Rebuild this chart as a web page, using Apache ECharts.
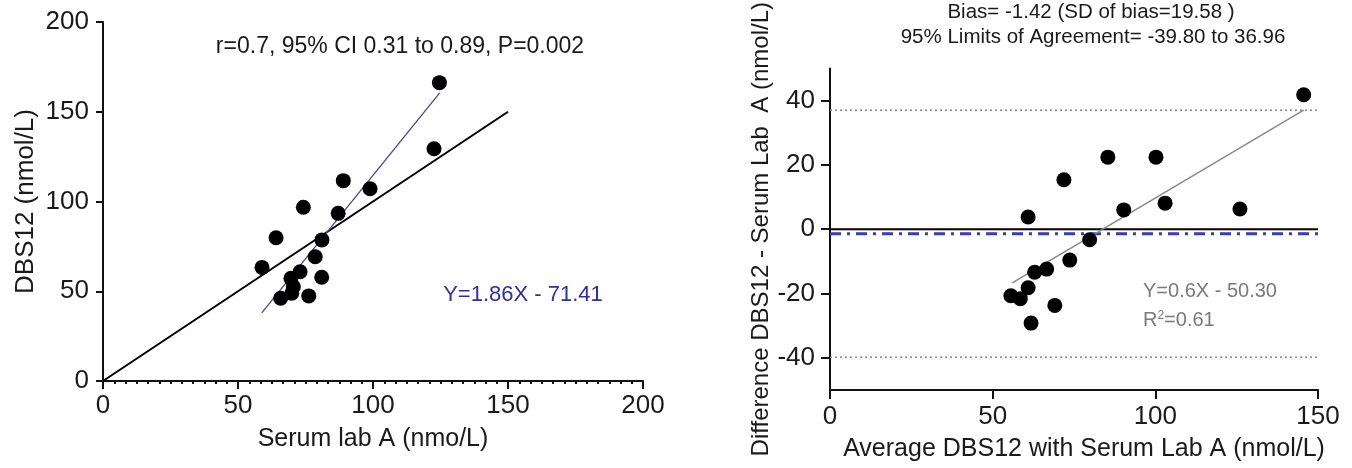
<!DOCTYPE html>
<html>
<head>
<meta charset="utf-8">
<script src="https://cdn.jsdelivr.net/npm/echarts@6/dist/echarts.min.js"></script>
<style>
html,body{margin:0;padding:0;background:#fff;}
#c{width:1352px;height:468px;}
</style>
</head>
<body>
<div id="c"></div>
<script>
// ---- Left panel: correlation (Serum lab A vs DBS12) ----
var serumA = [124.6, 122.6, 89.0, 98.9, 74.2, 87.1, 64.1, 81.1, 78.6, 58.9, 73.0, 81.0, 69.6, 70.5, 69.9, 65.8, 76.2];
var dbs12  = [166.2, 129.4, 111.6, 107.1, 96.8, 93.4, 79.8, 78.6, 69.2, 63.3, 60.9, 57.8, 57.2, 52.5, 48.9, 46.1, 47.4];
var leftTicks = [0, 50, 100, 150, 200];
var identityRange = [0, 150];
var fitLeft = {slope: 1.86, intercept: -71.41};
var fitLeftRange = [58.8, 124.7];

// ---- Right panel: Bland-Altman ----
var baAverage = [145.6, 85.4, 100.2, 71.9, 60.9, 90.3, 103.0, 126.0, 79.8, 73.7, 66.6, 62.9, 60.9, 55.6, 58.5, 69.1, 61.8];
var baDiff    = [41.8, 22.4, 22.4, 15.4, 3.8, 6.0, 8.1, 6.3, -3.3, -9.6, -12.4, -13.4, -18.2, -20.7, -21.6, -23.7, -29.2];
var rightXTicks = [0, 50, 100, 150];
var rightYTicks = [-40, -20, 0, 20, 40];
var bias = -1.42;
var loaUpper = 36.96;
var loaLower = -39.80;
var refRange = [0, 150];
var fitRight = {slope: 0.6, intercept: -50.30};
var fitRightRange = [56, 145.6];

function zip(a, b) { return a.map(function (v, i) { return [v, b[i]]; }); }
function fitLine(f, r) { return r.map(function (x) { return [x, f.slope * x + f.intercept]; }); }
function hLine(y, r) { return r.map(function (x) { return [x, y]; }); }
function identity(r) { return r.map(function (x) { return [x, x]; }); }

var FONT = 'Liberation Sans, Arial, sans-serif';
var TXT = '#1a1a1a';

var chart = echarts.init(document.getElementById('c'), null, {renderer: 'canvas'});

var axisLineStyle = {color: '#111', width: 2};
var tickStyle = {color: '#111', width: 2};

var option = {
  backgroundColor: '#ffffff',
  animation: false,
  textStyle: {fontFamily: FONT},
  grid: [
    {left: 103, top: 22, width: 540, height: 359},
    {left: 830, top: 67, width: 488, height: 323}
  ],
  xAxis: [
    {
      gridIndex: 0, type: 'value', min: 0, max: 200, interval: 50,
      name: 'Serum lab A (nmo/L)', nameLocation: 'middle', nameGap: 46,
      nameTextStyle: {fontSize: 25, color: TXT, fontFamily: FONT},
      axisLine: {show: true, onZero: false, lineStyle: axisLineStyle},
      axisTick: {show: true, length: 8, lineStyle: tickStyle},
      minorTick: {show: true, splitNumber: 12, length: 3, lineStyle: tickStyle},
      axisLabel: {fontSize: 26, color: TXT, margin: 12, fontFamily: FONT, customValues: leftTicks},
      splitLine: {show: false}, minorSplitLine: {show: false}
    },
    {
      gridIndex: 1, type: 'value', min: 0, max: 150, interval: 50,
      name: 'Average DBS12 with Serum Lab A (nmol/L)', nameLocation: 'middle', nameGap: 47,
      nameTextStyle: {fontSize: 25, color: TXT, fontFamily: FONT, padding: [0, 0, 0, 20]},
      axisLine: {show: true, onZero: false, lineStyle: axisLineStyle},
      axisTick: {show: true, length: 9, lineStyle: tickStyle},
      axisLabel: {fontSize: 26, color: TXT, margin: 14, fontFamily: FONT, customValues: rightXTicks},
      splitLine: {show: false}
    }
  ],
  yAxis: [
    {
      gridIndex: 0, type: 'value', min: 0, max: 200, interval: 50,
      name: 'DBS12 (nmol/L)', nameLocation: 'middle', nameGap: 64, nameRotate: 90,
      nameTextStyle: {fontSize: 26, color: TXT, fontFamily: FONT},
      axisLine: {show: true, onZero: false, lineStyle: axisLineStyle},
      axisTick: {show: true, length: 7, lineStyle: tickStyle},
      axisLabel: {fontSize: 26, color: TXT, margin: 14, fontFamily: FONT, customValues: leftTicks},
      splitLine: {show: false}
    },
    {
      gridIndex: 1, type: 'value', min: -50, max: 50,
      name: 'Difference DBS12 - Serum Lab  A (nmol/L)', nameLocation: 'middle', nameGap: 57, nameRotate: 90,
      nameTextStyle: {fontSize: 24, color: TXT, fontFamily: FONT},
      axisLine: {show: true, onZero: false, lineStyle: axisLineStyle},
      axisTick: {show: true, length: 9, lineStyle: tickStyle, customValues: rightYTicks},
      axisLabel: {fontSize: 26, color: TXT, margin: 15, fontFamily: FONT, customValues: rightYTicks},
      splitLine: {show: false}
    }
  ],
  series: [
    {
      type: 'line', xAxisIndex: 0, yAxisIndex: 0, data: identity(identityRange),
      symbol: 'none', lineStyle: {color: '#000', width: 2}, z: 2
    },
    {
      type: 'line', xAxisIndex: 0, yAxisIndex: 0, data: fitLine(fitLeft, fitLeftRange),
      symbol: 'none', lineStyle: {color: '#45459c', width: 1.3}, z: 3
    },
    {
      type: 'scatter', xAxisIndex: 0, yAxisIndex: 0, data: zip(serumA, dbs12),
      symbol: 'circle', symbolSize: 15, itemStyle: {color: '#000', opacity: 1}, z: 5
    },
    {
      type: 'line', xAxisIndex: 1, yAxisIndex: 1, data: hLine(loaUpper, refRange),
      symbol: 'none', lineStyle: {color: '#888', width: 1.5, type: [2, 3]}, z: 2
    },
    {
      type: 'line', xAxisIndex: 1, yAxisIndex: 1, data: hLine(loaLower, refRange),
      symbol: 'none', lineStyle: {color: '#888', width: 1.5, type: [2, 3]}, z: 2
    },
    {
      type: 'line', xAxisIndex: 1, yAxisIndex: 1, data: hLine(0, refRange),
      symbol: 'none', lineStyle: {color: '#000', width: 2}, z: 2
    },
    {
      type: 'line', xAxisIndex: 1, yAxisIndex: 1, data: hLine(bias, refRange),
      symbol: 'none', lineStyle: {color: '#3b3bb4', width: 3, type: [11, 6, 3, 6]}, z: 2
    },
    {
      type: 'line', xAxisIndex: 1, yAxisIndex: 1, data: fitLine(fitRight, fitRightRange),
      symbol: 'none', lineStyle: {color: '#888', width: 1.5}, z: 3
    },
    {
      type: 'scatter', xAxisIndex: 1, yAxisIndex: 1, data: zip(baAverage, baDiff),
      symbol: 'circle', symbolSize: 15, itemStyle: {color: '#000', opacity: 1}, z: 5
    }
  ],
  graphic: [
    {type: 'text', x: 400, y: 47, style: {text: 'r=0.7, 95% CI 0.31 to 0.89, P=0.002', fontSize: 23, fill: '#1a1a1a',
      fontFamily: FONT, align: 'center', verticalAlign: 'middle'}},
    {type: 'text', x: 523, y: 295, style: {text: 'Y=1.86X - 71.41', fontSize: 22, fill: '#2e2e9c',
      fontFamily: FONT, align: 'center', verticalAlign: 'middle'}},
    {type: 'text', x: 1091, y: 12, style: {text: 'Bias= -1.42 (SD of bias=19.58 )', fontSize: 20.5, fill: '#1a1a1a',
      fontFamily: FONT, align: 'center', verticalAlign: 'middle'}},
    {type: 'text', x: 1093, y: 37, style: {text: '95% Limits of Agreement= -39.80 to 36.96', fontSize: 20.5, fill: '#1a1a1a',
      fontFamily: FONT, align: 'center', verticalAlign: 'middle'}},
    {type: 'text', x: 1143, y: 291, style: {text: 'Y=0.6X - 50.30', fontSize: 20, fill: '#7a7a7a',
      fontFamily: FONT, align: 'left', verticalAlign: 'middle'}},
    {type: 'text', x: 1143, y: 320, style: {text: 'R{s|2}=0.61', fontSize: 20, fill: '#7a7a7a',
      fontFamily: FONT, align: 'left', verticalAlign: 'middle',
      rich: {s: {fontSize: 12, fill: '#7a7a7a', fontFamily: FONT, verticalAlign: 'top', padding: [0, 0, 9, 0]}}}}
  ]
};
chart.setOption(option);
</script>
</body>
</html>
